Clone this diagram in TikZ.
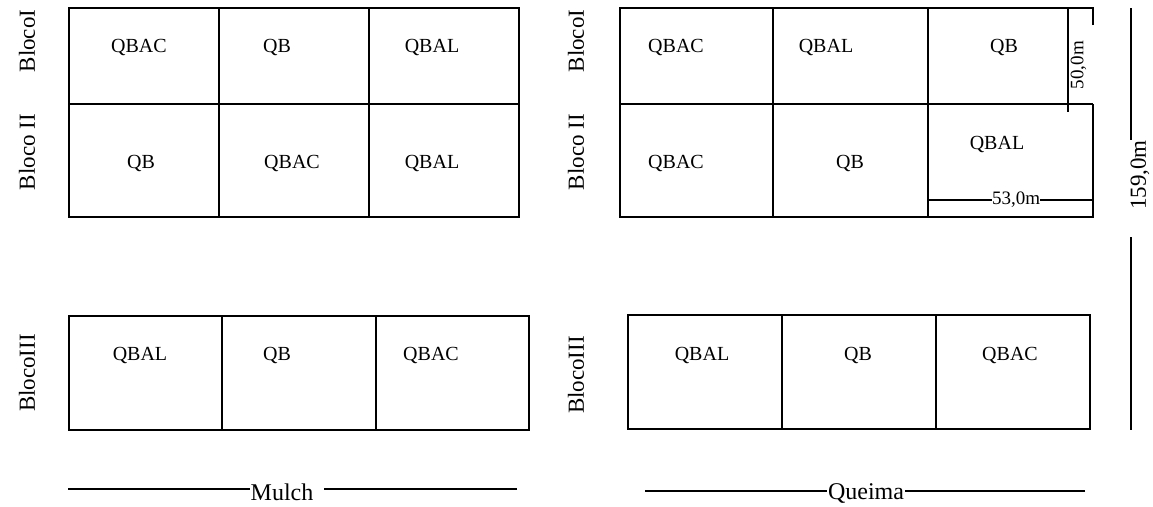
\documentclass[tikz,border=0pt]{standalone}
\usepackage{fontspec}
\setmainfont{Liberation Serif}
\begin{document}
\begin{tikzpicture}[x=1pt,y=-1pt,line width=1.2pt,
  cell/.style={font=\fontsize{20}{24}\selectfont,inner sep=0pt},
  blk/.style={rotate=90,font=\fontsize{23}{26}\selectfont,inner sep=0pt},
  dimtxt/.style={font=\fontsize{19}{22}\selectfont,inner sep=1pt,fill=white},
  legend/.style={font=\fontsize{24}{28}\selectfont,inner sep=0pt}]
\useasboundingbox (0,0) rectangle (1153,506);
% top-left grid (Mulch)
\draw (69,8) rectangle (519,217);
\draw (69,104) -- (519,104);
\draw (219,8) -- (219,217);
\draw (369,8) -- (369,217);
% top-right grid (Queima); right border interrupted by the 50,0m label
\draw (1093,25) -- (1093,8) -- (620,8) -- (620,217) -- (1093,217) -- (1093,104);
\draw (620,104) -- (1093,104);
\draw (773,8) -- (773,217);
\draw (928,8) -- (928,217);
% bottom-left
\draw (69,316) rectangle (529,430);
\draw (222,316) -- (222,430);
\draw (376,316) -- (376,430);
% bottom-right
\draw (628,315) rectangle (1090,429);
\draw (782,315) -- (782,429);
\draw (936,315) -- (936,429);
% block labels
\node[blk] (b1l) at (27,41) {BlocoI};
\node[blk] (b2l) at (27,152) {Bloco II};
\node[blk] (b3l) at (27,373) {BlocoIII};
\node[blk] (b1r) at (576,41) {BlocoI};
\node[blk] (b2r) at (576,152) {Bloco II};
\node[blk] (b3r) at (576,375) {BlocoIII};
% cells top-left
\node[cell] (c11) at (139,47) {QBAC};
\node[cell] (c12) at (277,47) {QB};
\node[cell] (c13) at (432,47) {QBAL};
\node[cell] (c21) at (141,163) {QB};
\node[cell] (c22) at (292,163) {QBAC};
\node[cell] (c23) at (432,163) {QBAL};
% cells top-right
\node[cell] (d11) at (676,47) {QBAC};
\node[cell] (d12) at (826,47) {QBAL};
\node[cell] (d13) at (1004,47) {QB};
\node[cell] (d21) at (676,163) {QBAC};
\node[cell] (d22) at (850,163) {QB};
\node[cell] (d23) at (997,144) {QBAL};
% cells bottom
\node[cell] (e1) at (140,355) {QBAL};
\node[cell] (e2) at (277,355) {QB};
\node[cell] (e3) at (431,355) {QBAC};
\node[cell] (f1) at (702,355) {QBAL};
\node[cell] (f2) at (858,355) {QB};
\node[cell] (f3) at (1010,355) {QBAC};
% dimension 50,0m
\coordinate (v1) at (1068,8);
\coordinate (v2) at (1068,112);
\draw (v1) -- (v2);
\node[rotate=90,font=\fontsize{19}{22}\selectfont,inner sep=0pt,anchor=north] (dim50) at (1070,65) {50,0m};
% dimension 53,0m
\coordinate (h1) at (928,200);
\coordinate (h2) at (1093,200);
\draw (h1) -- (h2);
\node[dimtxt,inner sep=0pt] (dim53) at (1016,200) {53,0m};
% dimension 159,0m
\coordinate (t1) at (1131,8);
\coordinate (t2) at (1131,237);
\coordinate (t3) at (1131,430);
\node[blk,anchor=north] (dim159) at (1130,175) {159,0m};
\draw (t1) -- (t1 |- dim159.east);
\draw (t2) -- (t3);
% legends
\node[legend] (mulch) at (282,492) {Mulch};
\coordinate (m1) at (68,489);
\coordinate (m2) at (517,489);
\draw (m1) -- (m1 -| mulch.west);
\draw (m2) -- ([xshift=10pt]m2 -| mulch.east);
\node[legend] (queima) at (866,493) {Queima};
\coordinate (q1) at (645,491);
\coordinate (q2) at (1085,491);
\draw (q1) -- (q1 -| queima.west);
\draw (q2) -- (q2 -| queima.east);
\end{tikzpicture}
\end{document}
